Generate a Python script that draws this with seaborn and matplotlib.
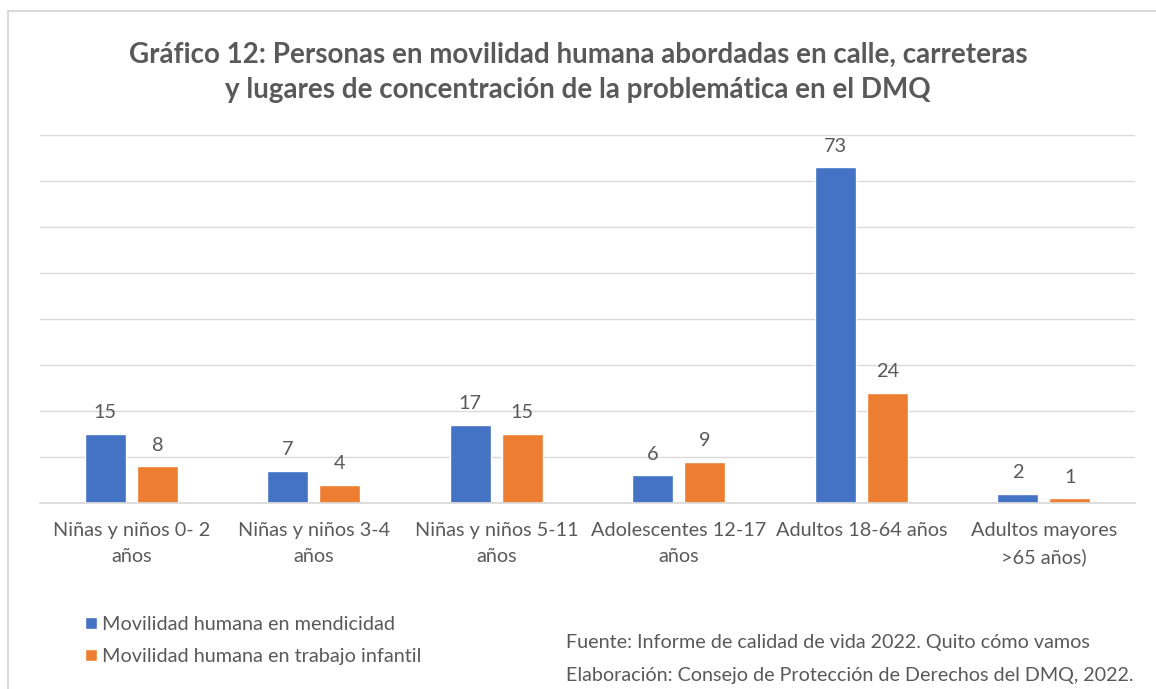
import pandas as pd
import seaborn as sns
import matplotlib.pyplot as plt
from matplotlib.patches import Rectangle

# data
categories = ["Niñas y niños 0- 2\naños", "Niñas y niños 3-4\naños", "Niñas y niños 5-11\naños",
              "Adolescentes 12-17\naños", "Adultos 18-64 años", "Adultos mayores\n>65 años)"]
mendicidad = [15, 7, 17, 6, 73, 2]
trabajo_infantil = [8, 4, 15, 9, 24, 1]
series_names = ["Movilidad humana en mendicidad", "Movilidad humana en trabajo infantil"]
colors = ["#4472C4", "#ED7D31"]

df = pd.DataFrame({
    "categoria": categories * 2,
    "valor": mendicidad + trabajo_infantil,
    "serie": [series_names[0]] * len(categories) + [series_names[1]] * len(categories),
})

sns.set_theme(style="white")
plt.rcParams['font.family'] = ['Lato', 'DejaVu Sans']
gray = "#595959"

fig = plt.figure(figsize=(11.56, 6.89), dpi=100)
ax = fig.add_axes([0.0346, 0.27, 0.9474, 0.534])

sns.barplot(data=df, x="categoria", y="valor", hue="serie", palette=colors,
            width=0.57, gap=0.21, saturation=1, ax=ax, legend=True)

ax.set_ylim(0, 80)
ax.set_yticks(range(0, 81, 10))
ax.set_yticklabels([])
ax.yaxis.grid(True, color="#D9D9D9", linewidth=1)
ax.set_axisbelow(True)
for s in ["top", "right", "left"]:
    ax.spines[s].set_visible(False)
ax.spines["bottom"].set_color("#D9D9D9")
ax.tick_params(axis="both", length=0)
ax.tick_params(axis="x", labelsize=14.3, labelcolor=gray, pad=14)
for lbl in ax.get_xticklabels():
    lbl.set_linespacing(1.6)
ax.set_xlabel("")
ax.set_ylabel("")

for cont in ax.containers:
    ax.bar_label(cont, padding=9, fontsize=14.3, color=gray)

# legend at bottom left
handles, labels = ax.get_legend_handles_labels()
ax.legend_.remove()
fig.legend(handles, labels, loc="upper left", bbox_to_anchor=(0.058, 0.132),
           frameon=False, fontsize=14.3, labelcolor=gray,
           handlelength=0.6, handleheight=0.6, handletextpad=0.25, labelspacing=0.75)

fig.text(0.5, 0.895, "Gráfico 12: Personas en movilidad humana abordadas en calle, carreteras\n"
         "y lugares de concentración de la problemática en el DMQ",
         ha="center", va="center", fontsize=20, fontweight="bold", color=gray, linespacing=1.45)

fig.text(0.49, 0.067, "Fuente: Informe de calidad de vida 2022. Quito cómo vamos",
         ha="left", va="center", fontsize=14.2, color=gray)
fig.text(0.49, 0.02, "Elaboración: Consejo de Protección de Derechos del DMQ, 2022.",
         ha="left", va="center", fontsize=14.2, color=gray)

# chart border
fig.patches.append(Rectangle((8 / 1156, -0.05), 1.1, 1 - 11 / 689 + 0.05,
                             transform=fig.transFigure, fill=False,
                             edgecolor="#D9D9D9", linewidth=1.5))

fig.savefig("out.png", dpi=100)
